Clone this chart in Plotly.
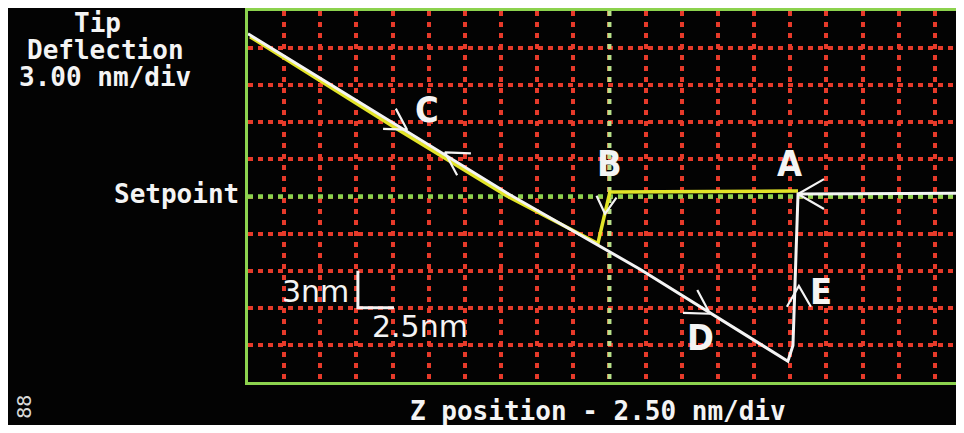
import math
import plotly.graph_objects as go

# z position in nm (2.5 nm/div), tip deflection in nm (3 nm/div), setpoint at 0
approach_z = [0.14, 10.51, 17.91, 24.20, 25.03, 38.04]
approach_defl = [12.92, 5.32, 0.04, -3.80, 0.36, 0.44]

retract_z = [0.0, 10.51, 17.91, 27.11, 37.34, 37.69, 38.04, 50.0]
retract_defl = [13.16, 5.56, 0.28, -5.88, -13.32, -12.04, 0.20, 0.28]

# direction arrows drawn on the curves
arrow_z = [11.0, 13.62, 24.69, 31.95, 38.1, 38.04]
arrow_defl = [5.4, 3.56, -1.4, -9.48, -7.24, 0.2]
arrow_heading = [32, 212, 95, 32, 270, 180]   # screen degrees
arrow_len = [24, 26, 20, 27, 24, 30]           # px

label_text = ['A', 'B', 'C', 'D', 'E']
label_z = [37.48, 24.97, 12.38, 31.33, 39.63]
label_defl = [2.68, 2.68, 7.0, -11.4, -7.72]

setpoint = 0.0
mid_z = 25.0
scale_corner = (7.6, -9.0)
z_per_div = 2.5
defl_per_div = 3.0

# layout (page body has an 8px margin, figure sized to fit the window)
OFF = 8
W, H = 956, 417
ML, MT, MB = 240, 1, 43
z_range = [0, 49.52]
defl_range = [-15, 15]

RED = '#e63a2a'
GREEN = '#8cd24e'
YELLOW = '#e2e428'
WHITE = '#f4f4f4'

plot_w = W - ML
plot_h = H - MT - MB
xu = (z_range[1] - z_range[0]) / plot_w
yu = (defl_range[1] - defl_range[0]) / plot_h


def paper_x(px):
    return (px - OFF - ML) / plot_w


def paper_y(py):
    return (H - MB - (py - OFF)) / plot_h


ax_, ay_ = [], []
for z, d, h, ln in zip(arrow_z, arrow_defl, arrow_heading, arrow_len):
    for s in (-1, 1):
        a = math.radians(h + s * 30)
        ax_ += [z - ln * math.cos(a) * xu, z]
        ay_ += [d + ln * math.sin(a) * yu, d]
    ax_.append(None)
    ay_.append(None)

fig = go.Figure()

# setpoint and middle guide lines (green, dotted, over the red grid)
fig.add_trace(go.Scatter(x=z_range, y=[setpoint, setpoint], mode='lines',
                         line=dict(color=GREEN, width=4.5, dash='5px,5px'), hoverinfo='skip'))
fig.add_trace(go.Scatter(x=[mid_z, mid_z], y=defl_range[::-1], mode='lines',
                         line=dict(color='#b8e08a', width=4, dash='5px,6px'), hoverinfo='skip'))

fig.add_trace(go.Scatter(x=approach_z, y=approach_defl, mode='lines',
                         line=dict(color=YELLOW, width=3.5), hoverinfo='skip'))
fig.add_trace(go.Scatter(x=retract_z, y=retract_defl, mode='lines',
                         line=dict(color=WHITE, width=3), hoverinfo='skip'))
fig.add_trace(go.Scatter(x=ax_, y=ay_, mode='lines',
                         line=dict(color=WHITE, width=2.2), hoverinfo='skip'))

# scale bar (3 nm up, 2.5 nm across)
cx, cy = scale_corner
fig.add_trace(go.Scatter(x=[cx, cx, cx + z_per_div], y=[cy + defl_per_div, cy, cy],
                         mode='lines', line=dict(color=WHITE, width=3), hoverinfo='skip'))

label_font = dict(family='Liberation Sans Narrow, DejaVu Sans Condensed, Liberation Sans',
                  size=36, color=WHITE, weight='bold')
for t, z, d in zip(label_text, label_z, label_defl):
    fig.add_annotation(x=z, y=d, text=t, showarrow=False, font=label_font,
                       xanchor='center', yanchor='middle')


def note(text, px, py, font, xanchor='center', **kw):
    fig.add_annotation(x=paper_x(px), y=paper_y(py), xref='paper', yref='paper', text=text,
                       showarrow=False, xanchor=xanchor, yanchor='middle', font=font, **kw)


scale_font = dict(family='DejaVu Sans', size=30, color=WHITE)
note('3nm', 351, 291, scale_font, xanchor='right')
note('2.5nm', 370, 326, scale_font, xanchor='left')

mono = dict(family='DejaVu Sans Mono', size=24, color=WHITE, weight='bold')
side_text = [('Tip', 97, 21), ('Deflection', 105, 48), ('3.00 nm/div', 105, 75)]
for t, px, py in side_text:
    note(t, px, py, dict(mono, size=26))
note('Setpoint', 241, 193, dict(mono, size=26), xanchor='right')
note('Z position - 2.50 nm/div', 598, 411, dict(mono, size=26))
note('88', 24, 407, dict(family='DejaVu Sans Mono', size=20, color='#d8d8d8'), textangle=-90)

fig.update_xaxes(range=z_range, dtick=z_per_div, tick0=0, showticklabels=False, ticks='',
                 showgrid=True, gridcolor=RED, gridwidth=4, griddash='5px,6px',
                 zeroline=False, showline=True, linecolor=GREEN, linewidth=3, mirror=True)
fig.update_yaxes(range=defl_range, dtick=defl_per_div, tick0=0, showticklabels=False, ticks='',
                 showgrid=True, gridcolor=RED, gridwidth=4, griddash='5px,5px',
                 zeroline=False, showline=True, linecolor=GREEN, linewidth=3, mirror=False)

fig.update_layout(width=W, height=H, margin=dict(l=ML, r=0, t=MT, b=MB),
                  paper_bgcolor='#030303', plot_bgcolor='#030303', showlegend=False)

fig.write_html('out.html')
